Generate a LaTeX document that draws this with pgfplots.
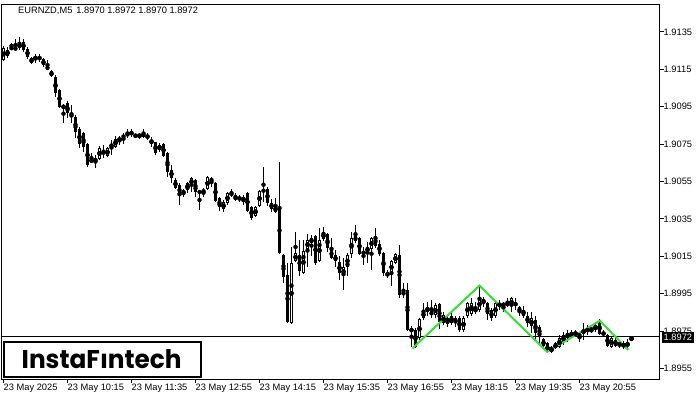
\documentclass[border=0pt]{standalone}
\usepackage{fontspec}
\setmainfont{Liberation Sans}
\newfontfamily\logofont{Poppins}
\usepackage{pgfplots}
\usepackage{pgfplotstable}
\pgfplotsset{compat=1.18}
\usepackage{graphicx}

\definecolor{zigzag}{RGB}{50,225,50}
\newcommand{\mtfont}{\fontsize{9.3bp}{10bp}\selectfont}

% EURNZD M5 candles, bar 0 = 23 May 08:55
\pgfplotstableread{
i o h l c
0 1.91200 1.91275 1.91195 1.91264
1 1.91222 1.91270 1.91211 1.91254
2 1.91262 1.91291 1.91259 1.91264
3 1.91270 1.91312 1.91250 1.91254
4 1.91264 1.91323 1.91254 1.91291
5 1.91296 1.91312 1.91243 1.91254
6 1.91259 1.91270 1.91205 1.91216
7 1.91211 1.91216 1.91179 1.91184
8 1.91200 1.91232 1.91184 1.91222
9 1.91211 1.91232 1.91189 1.91213
10 1.91205 1.91211 1.91163 1.91173
11 1.91163 1.91200 1.91147 1.91152
12 1.91142 1.91147 1.91109 1.91115
13 1.91109 1.91120 1.91003 1.91024
14 1.91040 1.91045 1.90943 1.90949
15 1.90943 1.90965 1.90863 1.90959
16 1.90970 1.90981 1.90890 1.90917
17 1.90912 1.90959 1.90863 1.90895
18 1.90895 1.90906 1.90783 1.90815
19 1.90831 1.90842 1.90730 1.90751
20 1.90810 1.90815 1.90708 1.90735
21 1.90751 1.90756 1.90628 1.90639
22 1.90655 1.90703 1.90649 1.90671
23 1.90665 1.90692 1.90623 1.90667
24 1.90671 1.90740 1.90665 1.90730
25 1.90714 1.90746 1.90676 1.90697
26 1.90687 1.90735 1.90681 1.90730
27 1.90735 1.90772 1.90692 1.90751
28 1.90735 1.90794 1.90730 1.90778
29 1.90767 1.90794 1.90746 1.90783
30 1.90789 1.90810 1.90751 1.90794
31 1.90810 1.90831 1.90783 1.90794
32 1.90810 1.90831 1.90789 1.90808
33 1.90794 1.90804 1.90789 1.90796
34 1.90789 1.90810 1.90778 1.90804
35 1.90810 1.90831 1.90783 1.90789
36 1.90794 1.90810 1.90772 1.90789
37 1.90767 1.90789 1.90735 1.90765
38 1.90762 1.90765 1.90692 1.90703
39 1.90719 1.90756 1.90708 1.90746
40 1.90751 1.90756 1.90681 1.90687
41 1.90703 1.90708 1.90574 1.90601
42 1.90612 1.90639 1.90542 1.90569
43 1.90558 1.90569 1.90510 1.90515
44 1.90531 1.90542 1.90424 1.90478
45 1.90489 1.90510 1.90467 1.90499
46 1.90505 1.90547 1.90489 1.90542
47 1.90531 1.90574 1.90494 1.90569
48 1.90558 1.90563 1.90467 1.90494
49 1.90489 1.90505 1.90398 1.90499
50 1.90494 1.90515 1.90467 1.90505
51 1.90510 1.90579 1.90505 1.90574
52 1.90569 1.90574 1.90521 1.90547
53 1.90542 1.90547 1.90440 1.90446
54 1.90462 1.90467 1.90392 1.90414
55 1.90403 1.90451 1.90387 1.90440
56 1.90435 1.90494 1.90424 1.90489
57 1.90478 1.90510 1.90467 1.90489
58 1.90478 1.90489 1.90446 1.90451
59 1.90462 1.90478 1.90440 1.90460
60 1.90446 1.90478 1.90424 1.90467
61 1.90489 1.90494 1.90387 1.90392
62 1.90414 1.90419 1.90344 1.90355
63 1.90365 1.90419 1.90360 1.90414
64 1.90419 1.90505 1.90414 1.90499
65 1.90510 1.90628 1.90440 1.90494
66 1.90510 1.90521 1.90419 1.90435
67 1.90435 1.90456 1.90387 1.90403
68 1.90387 1.90462 1.90381 1.90419
69 1.90408 1.90655 1.90163 1.90168
70 1.90157 1.90162 1.90007 1.90039
71 1.90050 1.90114 1.89793 1.89798
72 1.89793 1.90200 1.89788 1.90114
73 1.90125 1.90280 1.90119 1.90168
74 1.90157 1.90237 1.90045 1.90071
75 1.90061 1.90237 1.90055 1.90178
76 1.90189 1.90269 1.90093 1.90237
77 1.90221 1.90264 1.90151 1.90248
78 1.90259 1.90264 1.90104 1.90114
79 1.90125 1.90301 1.90119 1.90237
80 1.90243 1.90307 1.90232 1.90280
81 1.90269 1.90275 1.90173 1.90194
82 1.90189 1.90248 1.90135 1.90141
83 1.90157 1.90184 1.90093 1.90125
84 1.90119 1.90151 1.90023 1.90061
85 1.90045 1.90141 1.89970 1.90093
86 1.90093 1.90168 1.90045 1.90157
87 1.90162 1.90280 1.90141 1.90248
88 1.90259 1.90317 1.90221 1.90232
89 1.90248 1.90253 1.90157 1.90162
90 1.90178 1.90200 1.90104 1.90162
91 1.90173 1.90227 1.90114 1.90200
92 1.90189 1.90253 1.90077 1.90248
93 1.90259 1.90301 1.90194 1.90205
94 1.90216 1.90237 1.90151 1.90162
95 1.90168 1.90173 1.90045 1.90061
96 1.90061 1.90077 1.90034 1.90045
97 1.90061 1.90130 1.89991 1.90125
98 1.90114 1.90168 1.90109 1.90162
99 1.90157 1.90210 1.89927 1.89943
100 1.89954 1.90007 1.89927 1.89952
101 1.89970 1.90007 1.89750 1.89756
102 1.89745 1.89777 1.89664 1.89766
103 1.89756 1.89766 1.89659 1.89664
104 1.89713 1.89820 1.89702 1.89814
105 1.89820 1.89900 1.89809 1.89857
106 1.89852 1.89905 1.89830 1.89879
107 1.89857 1.89916 1.89820 1.89836
108 1.89836 1.89900 1.89820 1.89889
109 1.89895 1.89900 1.89761 1.89798
110 1.89793 1.89852 1.89782 1.89836
111 1.89820 1.89830 1.89772 1.89788
112 1.89793 1.89852 1.89782 1.89830
113 1.89820 1.89830 1.89772 1.89793
114 1.89820 1.89830 1.89745 1.89756
115 1.89756 1.89830 1.89745 1.89820
116 1.89830 1.89905 1.89820 1.89900
117 1.89841 1.89927 1.89830 1.89900
118 1.89852 1.89905 1.89841 1.89873
119 1.89863 1.89996 1.89852 1.89927
120 1.89922 1.89932 1.89879 1.89900
121 1.89900 1.89905 1.89809 1.89841
122 1.89863 1.89873 1.89804 1.89820
123 1.89830 1.89905 1.89820 1.89900
124 1.89884 1.89916 1.89863 1.89900
125 1.89884 1.89905 1.89852 1.89900
126 1.89905 1.89927 1.89879 1.89884
127 1.89884 1.89932 1.89852 1.89927
128 1.89905 1.89927 1.89863 1.89884
129 1.89879 1.89884 1.89830 1.89852
130 1.89863 1.89884 1.89820 1.89830
131 1.89830 1.89852 1.89772 1.89793
132 1.89777 1.89852 1.89740 1.89820
133 1.89809 1.89830 1.89702 1.89740
134 1.89772 1.89782 1.89686 1.89729
135 1.89707 1.89713 1.89659 1.89670
136 1.89686 1.89691 1.89633 1.89638
137 1.89638 1.89670 1.89633 1.89664
138 1.89659 1.89691 1.89654 1.89686
139 1.89664 1.89729 1.89659 1.89713
140 1.89691 1.89745 1.89675 1.89729
141 1.89713 1.89756 1.89691 1.89740
142 1.89745 1.89756 1.89713 1.89723
143 1.89729 1.89756 1.89718 1.89745
144 1.89729 1.89745 1.89691 1.89727
145 1.89740 1.89793 1.89702 1.89756
146 1.89745 1.89782 1.89729 1.89766
147 1.89756 1.89782 1.89740 1.89754
148 1.89756 1.89798 1.89745 1.89782
149 1.89793 1.89814 1.89729 1.89734
150 1.89745 1.89756 1.89718 1.89729
151 1.89729 1.89734 1.89664 1.89670
152 1.89664 1.89718 1.89659 1.89713
153 1.89702 1.89713 1.89664 1.89670
154 1.89691 1.89697 1.89659 1.89670
155 1.89664 1.89697 1.89654 1.89686
156 1.89670 1.89707 1.89649 1.89691
157 1.89700 1.89720 1.89697 1.89720
}\candles

\begin{document}
\begin{tikzpicture}
\useasboundingbox (0,0) rectangle (700bp,400bp);
\begin{axis}[
    at={(1.5bp,20.5bp)}, anchor=south west,
    scale only axis, width=658bp, height=375bp,
    xmin=-0.5, xmax=164, ymin=1.89491, ymax=1.91497,
    axis line style={black, line width=1bp},
    tick style={black, line width=1bp},
    tick align=outside, major tick length=4bp,
    xtick pos=bottom, ytick pos=right, yticklabel pos=right,
    xtick={0,16,32,48,64,80,96,112,128,144},
    xticklabels={23 May 2025, 23 May 10:15, 23 May 11:35, 23 May 12:55,
        23 May 14:15, 23 May 15:35, 23 May 16:55, 23 May 18:15,
        23 May 19:35, 23 May 20:55},
    ytick={1.8955,1.8975,1.8995,1.9015,1.9035,1.9055,1.9075,1.9095,1.9115,1.9135},
    scaled y ticks=false,
    /pgf/number format/assume math mode=true,
    yticklabel style={/pgf/number format/.cd, fixed, fixed zerofill, precision=4, /tikz/.cd,
        anchor=west, inner sep=0pt, xshift=0bp, font=\mtfont},
    xticklabel style={anchor=north west, inner sep=0pt, font=\mtfont},
]
% price line
\addplot[black, line width=1bp, mark=none, forget plot] coordinates {(-0.5,1.8972) (164,1.8972)};
% wicks
\addplot[only marks, mark=none, forget plot,
    error bars/.cd, y dir=both, y explicit, error mark=none,
    error bar style={black, line width=1bp}]
  table[x=i, y expr={(\thisrow{h}+\thisrow{l})/2}, y error expr={(\thisrow{h}-\thisrow{l})/2}] {\candles};
% bodies
\addplot[only marks, mark=none, forget plot,
    error bars/.cd, y dir=both, y explicit, error mark=none,
    error bar style={black, line width=3bp}]
  table[x=i, y expr={(\thisrow{o}+\thisrow{c})/2}, y error expr={max(abs(\thisrow{o}-\thisrow{c})/2,0.0000268)}] {\candles};
% hollow inside of rising candles
\addplot[only marks, mark=none, forget plot, restrict y to domain=1.8:2,
    error bars/.cd, y dir=both, y explicit, error mark=none,
    error bar style={white, line width=1bp}]
  table[x=i, y expr={\thisrow{c}-\thisrow{o}>0.00011 ? (\thisrow{o}+\thisrow{c})/2 : 5},
         y error expr={(\thisrow{c}-\thisrow{o})/2-0.0000535}] {\candles};
% pattern
\addplot[zigzag, line width=2bp, mark=none] coordinates {
    (102.2,1.89657) (119,1.89993) (135.9,1.89639) (149.1,1.89805) (156.2,1.89649)};
\end{axis}
\node[anchor=west, inner sep=0pt, font=\mtfont] at (18bp,389.5bp) {EURNZD,M5\hspace{4bp}1.8970 1.8972 1.8970 1.8972};
\node[fill=black, text=white, anchor=west, inner xsep=2bp, inner ysep=0pt, minimum height=11bp, font=\mtfont] at (661.5bp,62.5bp) {1.8972};
\filldraw[fill=white, draw=black, line width=2bp] (3.7bp,58.3bp) rectangle (200.7bp,22.7bp);
\node[inner sep=0pt] at (101.7bp,41.2bp) {\resizebox{160bp}{19bp}{\logofont\bfseries InstaF\i ntech}};
\end{tikzpicture}
\end{document}
